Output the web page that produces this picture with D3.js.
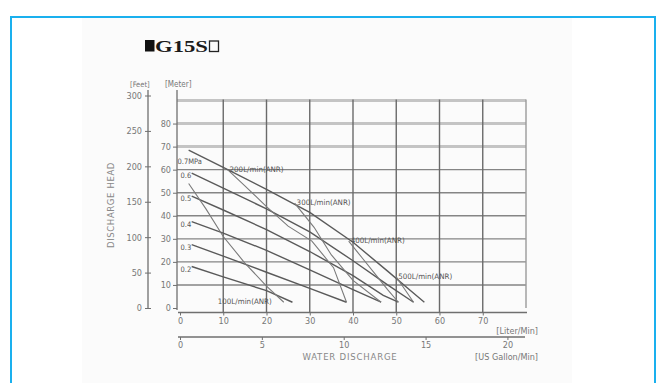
<!DOCTYPE html>
<html><head><meta charset="utf-8">
<script src="https://cdn.jsdelivr.net/npm/d3@7"></script>
<style>body{margin:0;background:#fff}svg{display:block}</style>
</head><body><svg id="c" width="657" height="383"></svg>
<script>
// ---- data ----
const literTicks = [0,10,20,30,40,50,60,70];
const gallonTicks = [0,5,10,15,20];
const meterTicks = [0,10,20,30,40,50,60,70,80];
const feetTicks = [0,50,100,150,200,250,300];
const meterGrid = [10,20,30,40,50,60,70,80,90];
const literGrid = [10,20,30,40,50,60,70,80];

const pressureNames = ["0.7MPa","0.6","0.5","0.4","0.3","0.2"];
const p07 = [[2,68.5],[10,61],[20,51.5],[30,41.5],[40,28.5],[48,16],[53,8],[56.5,2.5]];
const p06 = [[2.7,58.5],[10,52],[20,43],[30,33],[40,20.5],[48,10],[54,2.5]];
const p05 = [[2.7,48.5],[10,42.5],[20,34],[30,24.5],[40,14],[47,5.5],[50.5,2.5]];
const p04 = [[2.7,37.5],[10,32.5],[20,25],[30,16.5],[40,8],[46.5,2.5]];
const p03 = [[2.7,27.5],[10,22.5],[20,15.5],[30,8.5],[38.5,2.5]];
const p02 = [[2.7,18],[10,13.5],[20,7.5],[26,2.5]];

const airNames = ["100L/min(ANR)","200L/min(ANR)","300L/min(ANR)","400L/min(ANR)","500L/min(ANR)"];
const a100 = [[2,54],[6,43],[10,31],[15,19.5],[20,9.5],[24,2.5]];
const a200 = [[11,60],[15,53],[20,44],[25,35.5],[30.5,29],[35.5,17.5],[38.5,2.5]];
const a300 = [[26.5,45.5],[31,35],[35,23],[40,12],[46.5,2.5]];
const a400 = [[39,29],[42,22],[45,15],[48,8],[50.5,2.5]];
const a500 = [[50,13.5],[52,8],[54,2.5]];

// ---- drawing ----
const svg = d3.select("#c");
const grey = "#6f6f6f";
const x = d3.scaleLinear().domain([0,80]).range([180,526]);
const xg = d3.scaleLinear().domain([0,20]).range([180,180+20*3.7854*(346/80)]);
const y = d3.scaleLinear().domain([0,90]).range([308,100.5]);
const yf = d3.scaleLinear().domain([0,300]).range([308,95.5]);

svg.append("rect").attr("x",0).attr("y",0).attr("width",657).attr("height",383).attr("fill","#fff");
svg.append("rect").attr("x",82).attr("y",18).attr("width",490).attr("height",370).attr("fill","#fbfbfb");
svg.append("path").attr("d","M11,390V17H655V390").attr("fill","none").attr("stroke","#1ab0ee").attr("stroke-width",2);

// title
svg.append("rect").attr("x",145).attr("y",40).attr("width",9.5).attr("height",11.5).attr("fill","#111");
svg.append("text").attr("x",155).attr("y",52).attr("font-family","Liberation Serif, DejaVu Serif, serif")
  .attr("font-weight","bold").attr("font-size",17).attr("fill","#1a1a1a")
  .attr("textLength",53).attr("lengthAdjust","spacingAndGlyphs").text("G15S");
svg.append("rect").attr("x",209.5).attr("y",41).attr("width",9).attr("height",10.5).attr("fill","none").attr("stroke","#222").attr("stroke-width",1.3);

const font = "DejaVu Sans Condensed, DejaVu Sans, sans-serif";

// grid
svg.append("g").selectAll("line").data(meterGrid).join("line")
  .attr("x1",177).attr("x2",x(80)).attr("y1",d=>y(d)).attr("y2",d=>y(d))
  .attr("stroke",d=>d>=70?"#c4c4c4":"#858585").attr("stroke-width",d=>d>=70?3:1.4);
svg.append("g").selectAll("line").data(literGrid).join("line")
  .attr("x1",d=>x(d)).attr("x2",d=>x(d)).attr("y1",y(90)-1).attr("y2",d=>d===80?y(0):313)
  .attr("stroke",d=>d===80?"#9a9a9a":"#6a6a6a").attr("stroke-width",1.4);

// metre axis
const gm = svg.append("g").attr("transform","translate(177,0)");
gm.call(d3.axisLeft(y).tickValues(meterTicks).tickSize(4).tickPadding(2).tickFormat(d3.format("d")));
gm.select(".domain").attr("d",`M0,90V${y(0)+2}`).attr("stroke",grey).attr("stroke-width",1.3);
gm.selectAll(".tick line").attr("stroke",grey);
gm.selectAll(".tick text").attr("font-family",font).attr("font-size",9).attr("fill","#777");

// feet axis
const gf = svg.append("g").attr("transform","translate(148,0)");
gf.call(d3.axisLeft(yf).tickValues(feetTicks).tickSize(3).tickPadding(3).tickFormat(d3.format("d")));
gf.select(".domain").attr("d",`M0,90V${yf(0)+1}`).attr("stroke",grey).attr("stroke-width",1.3);
gf.selectAll(".tick line").attr("x2",3).attr("x1",-3).attr("stroke",grey);
gf.selectAll(".tick text").attr("font-family",font).attr("font-size",9).attr("fill","#777");

svg.append("text").attr("x",130).attr("y",87).attr("font-family",font).attr("font-size",7.5).attr("fill","#777").text("[Feet]");
svg.append("text").attr("x",165).attr("y",87).attr("font-family",font).attr("font-size",8).attr("fill","#777").text("[Meter]");
svg.append("text").attr("transform","translate(114,205) rotate(-90)").attr("text-anchor","middle")
  .attr("font-family",font).attr("font-size",9.5).attr("letter-spacing",0.6).attr("fill","#888").text("DISCHARGE HEAD");

// liter axis
const gl = svg.append("g").attr("transform","translate(0,312.5)");
gl.call(d3.axisBottom(x).tickValues(literTicks).tickSize(3).tickPadding(2).tickFormat(d3.format("d")));
gl.select(".domain").attr("d",`M178,0H527`).attr("stroke",grey).attr("stroke-width",1.3);
gl.selectAll(".tick line").attr("stroke",grey);
gl.selectAll(".tick text").attr("font-family",font).attr("font-size",9).attr("fill","#777");
svg.append("text").attr("x",538).attr("y",334).attr("text-anchor","end").attr("font-family",font).attr("font-size",9).attr("fill","#777").text("[Liter/Min]");

// gallon axis
const gg = svg.append("g").attr("transform","translate(0,337)");
gg.call(d3.axisBottom(xg).tickValues(gallonTicks).tickSize(3).tickPadding(2).tickFormat(d3.format("d")));
gg.select(".domain").attr("d",`M178,0H525`).attr("stroke",grey).attr("stroke-width",1.3);
gg.selectAll(".tick line").attr("stroke",grey);
gg.selectAll(".tick text").attr("font-family",font).attr("font-size",9).attr("fill","#777");
svg.append("text").attr("x",350).attr("y",360).attr("text-anchor","middle").attr("font-family",font).attr("font-size",9.5).attr("letter-spacing",0.8).attr("fill","#888").text("WATER DISCHARGE");
svg.append("text").attr("x",538).attr("y",360).attr("text-anchor","end").attr("font-family",font).attr("font-size",9).attr("fill","#777").text("[US Gallon/Min]");

// curves
const line = d3.line().x(d=>x(d[0])).y(d=>y(d[1]));
const pressures = [p07,p06,p05,p04,p03,p02];
const airs = [a100,a200,a300,a400,a500];
svg.append("g").selectAll("path").data(pressures).join("path").attr("d",line)
  .attr("fill","none").attr("stroke","#5a5a5a").attr("stroke-width",1.4);
svg.append("g").selectAll("path").data(airs).join("path").attr("d",line)
  .attr("fill","none").attr("stroke","#7a7a7a").attr("stroke-width",1.1);

svg.append("g").selectAll("text").data(pressures).join("text")
  .attr("x",(d,i)=>i===0?177.5:180.5).attr("y",(d,i)=>y(d[0][1])+(i===0?14:5))
  .attr("font-family",font).attr("font-size",7.5).attr("fill","#555")
  .text((d,i)=>pressureNames[i]);

svg.append("g").selectAll("text").data(airs).join("text")
  .attr("x",(d,i)=>i===0?x(d[d.length-1][0])-12:x(d[0][0])+2)
  .attr("y",(d,i)=>i===0?y(d[d.length-1][1])+2:y(d[0][1])+2)
  .attr("text-anchor",(d,i)=>i===0?"end":"start")
  .attr("font-family",font).attr("font-size",7.5).attr("fill","#555")
  .attr("textLength",54).attr("lengthAdjust","spacingAndGlyphs")
  .text((d,i)=>airNames[i]);
</script></body></html>
